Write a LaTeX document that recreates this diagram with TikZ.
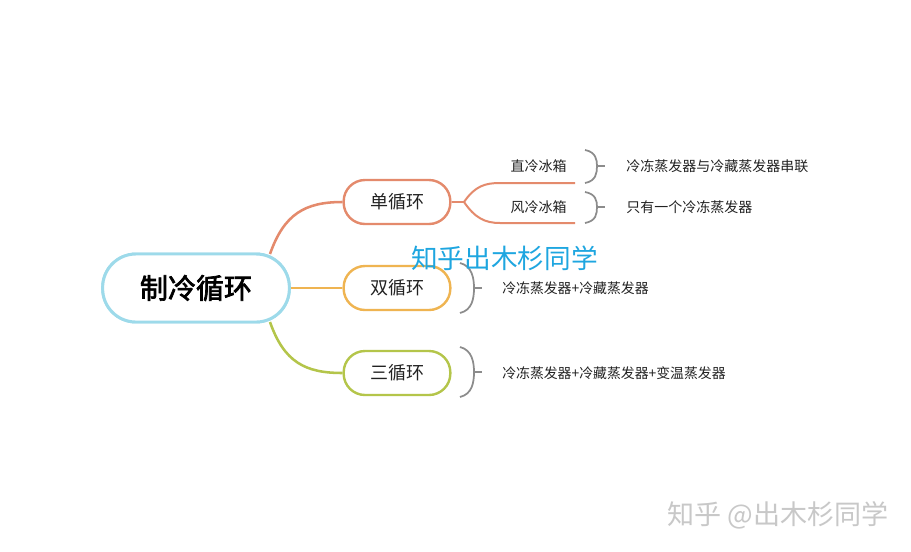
\documentclass[tikz,border=0pt]{standalone}
\usepackage{fontspec}
\setmainfont{Noto Sans CJK SC}
\newfontfamily\cjk{Noto Sans CJK SC}
\newfontfamily\cjkbold{Noto Sans CJK SC}[FakeBold=2.5]
\definecolor{cmain}{HTML}{9DDAEA}
\definecolor{cone}{HTML}{E48A6C}
\definecolor{ctwo}{HTML}{EFB451}
\definecolor{cthree}{HTML}{B4C54A}
\definecolor{cbr}{HTML}{8C8C8C}
\definecolor{cwm}{HTML}{1EA6E0}
\definecolor{cwm2}{HTML}{C8C8C8}
\definecolor{ctext}{HTML}{222222}
\begin{document}
\begin{tikzpicture}[x=0.75pt,y=-0.75pt,
  mainbox/.style={draw=cmain,line width=2.2pt,rounded corners=25pt,minimum width=140pt,minimum height=51pt,fill=white,inner sep=0pt,font=\cjkbold\fontsize{21}{24}\selectfont,text=black},
  subbox/.style={draw=#1,line width=1.8pt,rounded corners=16pt,minimum width=80pt,minimum height=33pt,fill=white,inner sep=0pt,font=\cjk\fontsize{13.5}{16}\selectfont,text=ctext},
  link/.style={draw=#1,line width=1.9pt},
  leaf/.style={inner sep=0pt,anchor=east,font=\cjk\fontsize{10.5}{12}\selectfont,text=ctext},
  note/.style={inner sep=0pt,anchor=west,font=\cjk\fontsize{10.5}{12}\selectfont,text=ctext},
  notes/.style={inner sep=0pt,anchor=west,font=\cjk\fontsize{10.4}{12}\selectfont,text=ctext},
  brk/.style={draw=cbr,line width=1.3pt}
]
\fill[white] (0,0) rectangle (911,551);
\useasboundingbox (0,0) rectangle (911,551);

\coordinate (ca) at (270,254);
\coordinate (cb) at (270,322);
\node[subbox=cone] (one) at (397,202) {单循环};
\node[subbox=ctwo] (two) at (397,288) {双循环};
\node[subbox=cthree] (three) at (397,373) {三循环};
\node[mainbox] (c) at (196,288) {制冷循环};

\draw[link=cone] (ca) .. controls (284,214) and (305,202) .. (one.west);
\draw[link=ctwo] (c.east) -- (two.west);
\draw[link=cthree] (cb) .. controls (284,362) and (305,373) .. (three.west);
\node[mainbox] at (c) {制冷循环};

% branch of 单循环
\coordinate (fk) at (464,202);
\coordinate (ea) at (575,183);
\coordinate (eb) at (575,223);
\coordinate (sa) at (500,183);
\coordinate (sb) at (500,223);
\draw[link=cone,line width=1.5pt] (one.east) -- (fk);
\draw[link=cone,line width=1.5pt] (fk) .. controls (475,186) and (485,183) .. (sa) -- (ea);
\draw[link=cone,line width=1.5pt] (fk) .. controls (475,218) and (485,223) .. (sb) -- (eb);
\node[leaf] (zl) at (567,166) {直冷冰箱};
\node[leaf] (fl) at (567,207) {风冷冰箱};

% brackets
\coordinate (b1t) at (585,150); \coordinate (b1m) at (597,166); \coordinate (b1b) at (585,183); \coordinate (b1e) at (605,166);
\draw[brk] (b1t) .. controls (596,152) and (597,160) .. (b1m) .. controls (597,173) and (596,181) .. (b1b);
\draw[brk] (b1m) -- (b1e);
\coordinate (b2t) at (585,192); \coordinate (b2m) at (597,207); \coordinate (b2b) at (585,223); \coordinate (b2e) at (605,207);
\draw[brk] (b2t) .. controls (596,194) and (597,201) .. (b2m) .. controls (597,214) and (596,221) .. (b2b);
\draw[brk] (b2m) -- (b2e);
\coordinate (b3t) at (460,263); \coordinate (b3m) at (474,288); \coordinate (b3b) at (460,313); \coordinate (b3e) at (482,288);
\draw[brk] (b3t) .. controls (472,266) and (474,278) .. (b3m) .. controls (474,299) and (472,310) .. (b3b);
\draw[brk] (b3m) -- (b3e);
\coordinate (b4t) at (460,347); \coordinate (b4m) at (474,372); \coordinate (b4b) at (460,397); \coordinate (b4e) at (482,372);
\draw[brk] (b4t) .. controls (472,350) and (474,362) .. (b4m) .. controls (474,383) and (472,394) .. (b4b);
\draw[brk] (b4m) -- (b4e);

\node[note] (n1) at (626,166) {冷冻蒸发器与冷藏蒸发器串联};
\node[note] (n2) at (626,207) {只有一个冷冻蒸发器};
\node[notes] (n3) at (502,288) {冷冻蒸发器+冷藏蒸发器};
\node[notes] (n4) at (502,373) {冷冻蒸发器+冷藏蒸发器+变温蒸发器};

% watermarks
\node[inner sep=0pt,anchor=west,font=\cjk\fontsize{20}{24}\selectfont,text=cwm] (wm) at (411,258) {知乎出木杉同学};
\node[inner sep=0pt,anchor=west,font=\cjk\fontsize{20.3}{24}\selectfont,text=cwm2] (wm2) at (667,515) {知乎 @出木杉同学};
\end{tikzpicture}
\end{document}
